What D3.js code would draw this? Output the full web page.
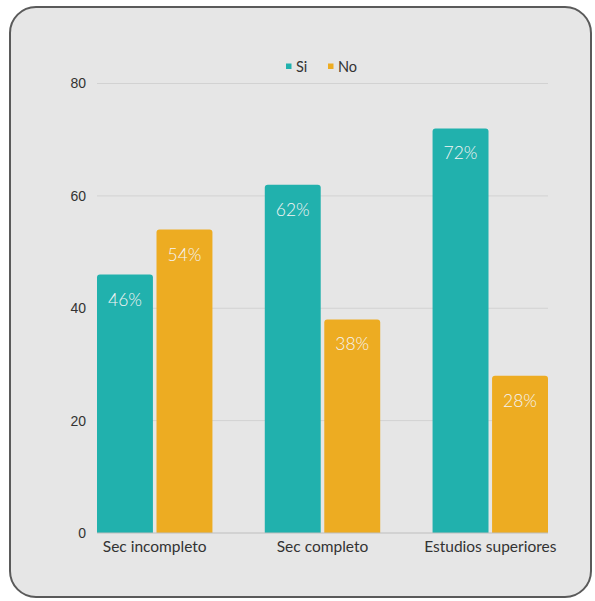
<!DOCTYPE html>
<html><head><meta charset="utf-8">
<script src="https://cdn.jsdelivr.net/npm/d3@7"></script>
<style>html,body{margin:0;padding:0;background:#fff;}svg{display:block;}</style>
</head><body>
<script>
const categories = ["Sec incompleto", "Sec completo", "Estudios superiores"];
const seriesNames = ["Si", "No"];
const siValues = [46, 62, 72];
const noValues = [54, 38, 28];
const yTicks = [0, 20, 40, 60, 80];
const colors = {Si: "#21b1ad", No: "#edac22"};

const W = 595, H = 601;
const svg = d3.select("body").append("svg").attr("width", W).attr("height", H);

svg.append("rect").attr("x", 10).attr("y", 7).attr("width", 581).attr("height", 590)
  .attr("rx", 26).attr("ry", 26).attr("fill", "#e6e6e6").attr("stroke", "#5a5a5a").attr("stroke-width", 2);

const labelFont = "Lato, 'DejaVu Sans', sans-serif";

const x0 = d3.scaleBand().domain(categories).range([97, 548]).paddingInner(0.312).paddingOuter(0);
const x1 = d3.scaleBand().domain(seriesNames).range([0, x0.bandwidth()]).paddingInner(0.06);
const y = d3.scaleLinear().domain([0, 80]).range([533, 83.5]);

// gridlines
svg.append("g").selectAll("line").data(yTicks.filter(t => t > 0)).join("line")
  .attr("x1", 97).attr("x2", 548).attr("y1", d => y(d)).attr("y2", d => y(d))
  .attr("stroke", "#d2d2d2").attr("stroke-width", 1);

// y axis labels
const yAxis = d3.axisLeft(y).tickValues(yTicks).tickSize(0).tickPadding(11);
const gy = svg.append("g").attr("transform", "translate(97,0)").call(yAxis);
gy.select(".domain").remove();
gy.selectAll("text").attr("font-family", "'Liberation Sans', Arial, sans-serif").attr("font-size", 14).attr("fill", "#333");

const data = categories.map((c, i) => ({cat: c, vals: [{s: "Si", v: siValues[i]}, {s: "No", v: noValues[i]}]}));

function topRounded(x, yT, w, h, r) {
  return `M${x},${yT + h}V${yT + r}Q${x},${yT} ${x + r},${yT}H${x + w - r}Q${x + w},${yT} ${x + w},${yT + r}V${yT + h}Z`;
}

const groups = svg.append("g").selectAll("g").data(data).join("g")
  .attr("transform", d => `translate(${x0(d.cat)},0)`);
groups.selectAll("path").data(d => d.vals).join("path")
  .attr("d", d => topRounded(x1(d.s), y(d.v), x1.bandwidth(), y(0) - y(d.v), 3))
  .attr("fill", d => colors[d.s]);
groups.selectAll("text").data(d => d.vals).join("text")
  .attr("x", d => x1(d.s) + x1.bandwidth() / 2)
  .attr("y", d => y(d.v) + 31)
  .attr("text-anchor", "middle")
  .attr("font-family", labelFont).attr("font-weight", 300).attr("font-size", 17.5).attr("fill", "#f4f4f4")
  .text(d => d.v + "%");

// baseline
svg.append("line").attr("x1", 97).attr("x2", 548).attr("y1", y(0)).attr("y2", y(0))
  .attr("stroke", "#bdbdbd").attr("stroke-width", 1.2);

// x axis labels
const xAxis = d3.axisBottom(x0).tickSize(0).tickPadding(8);
const gx = svg.append("g").attr("transform", `translate(0,${y(0)})`).call(xAxis);
gx.select(".domain").remove();
gx.selectAll("text").attr("font-family", labelFont).attr("font-size", 15.5).attr("fill", "#333");

// legend
const legend = svg.append("g");
const legendItems = [{s: "Si", x: 286}, {s: "No", x: 328}];
legendItems.forEach(it => {
  legend.append("rect").attr("x", it.x).attr("y", 63.5).attr("width", 5.5).attr("height", 5.5).attr("fill", colors[it.s]);
  legend.append("text").attr("x", it.x + 10).attr("y", 71.5).attr("font-family", labelFont)
    .attr("font-size", 14.5).attr("fill", "#333").text(it.s);
});
</script>
</body></html>
